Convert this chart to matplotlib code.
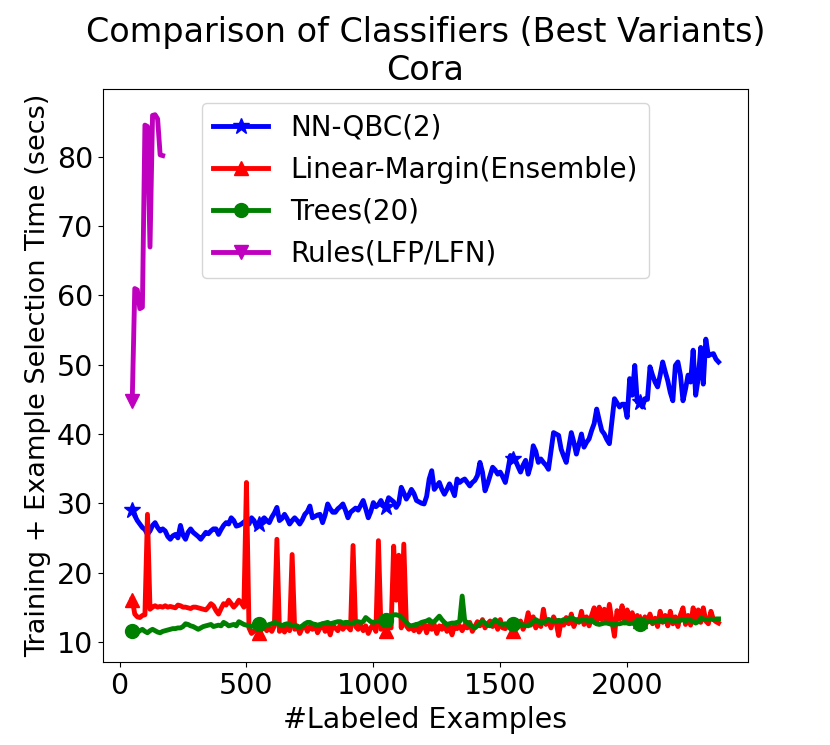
import numpy as np
import matplotlib
matplotlib.use('Agg')
import matplotlib.pyplot as plt

# number of labeled examples (same grid for the three long runs)
labeled = np.arange(50, 2370, 10)

nn_qbc = [
    29.0, 28.2, 27.5, 27.0, 26.5, 26.2, 25.5, 26.0, 26.8, 27.2,
    26.5, 26.0, 26.3, 26.0, 25.2, 24.8, 25.3, 25.5, 25.0, 26.8,
    25.4, 24.8, 25.8, 26.3, 25.8, 25.5, 25.2, 24.8, 25.3, 25.8,
    25.6, 26.0, 26.3, 26.3, 25.5, 26.2, 26.8, 27.2, 27.0, 27.9,
    27.5, 26.7, 26.8, 27.0, 27.3, 27.5, 27.0, 27.9, 27.5, 26.5,
    27.0, 27.5, 27.9, 27.5, 27.2, 28.0, 28.6, 29.4, 27.5, 27.8,
    28.4, 27.8, 27.0, 27.5, 27.9, 27.5, 27.0, 27.6, 28.4, 28.8,
    29.6, 27.9, 28.1, 28.3, 28.4, 27.2, 28.3, 29.9, 29.2, 28.7,
    28.7, 29.2, 29.5, 29.9, 29.0, 27.9, 28.7, 29.0, 29.3, 29.0,
    29.7, 30.4, 29.2, 27.9, 28.8, 30.1, 29.5, 29.8, 30.4, 29.6,
    29.5, 30.8, 30.5, 30.2, 29.4, 30.0, 32.3, 31.5, 30.6, 31.2,
    32.0, 31.4, 30.4, 30.2, 30.0, 29.9, 31.0, 33.5, 34.7, 32.0,
    32.5, 33.0, 32.0, 31.3, 32.0, 32.8, 32.0, 31.1, 33.5, 33.0,
    33.3, 33.5, 33.0, 32.5, 33.0, 33.3, 34.0, 35.9, 34.5, 31.8,
    32.8, 34.0, 35.2, 34.8, 34.2, 34.5, 33.8, 33.0, 34.8, 36.9,
    36.4, 36.2, 35.3, 34.5, 35.5, 36.2, 34.2, 35.5, 38.3, 37.5,
    35.9, 36.4, 35.9, 35.5, 34.9, 37.5, 40.2, 40.0, 39.8, 37.8,
    36.8, 35.9, 38.0, 40.2, 38.8, 37.1, 38.5, 40.0, 38.1, 38.8,
    39.3, 40.5, 41.5, 43.6, 42.0, 40.5, 40.0, 39.2, 38.6, 41.9,
    45.1, 44.5, 43.9, 44.3, 44.3, 42.4, 48.0, 45.6, 49.9, 44.6,
    44.6, 43.9, 45.1, 45.0, 49.7, 48.5, 47.5, 46.8, 48.5, 50.4,
    49.0, 47.7, 46.0, 44.8, 49.9, 50.4, 48.5, 44.8, 46.5, 48.5,
    47.5, 52.1, 45.6, 48.0, 52.5, 47.2, 53.7, 51.3, 51.5, 51.6,
    50.8, 50.4,
]

linear_margin = [
    16.1, 14.0, 13.6, 13.5, 13.8, 13.9, 28.4, 14.7, 15.0, 15.2,
    15.0, 15.1, 15.0, 15.2, 15.0, 15.1, 15.0, 14.9, 15.3, 15.2,
    15.0, 15.0, 14.9, 14.8, 15.0, 15.0, 14.9, 14.8, 14.7, 14.6,
    15.0, 15.5, 15.2, 14.5, 14.0, 14.8, 15.5, 15.3, 16.0, 15.5,
    15.0, 15.4, 16.0, 15.6, 15.0, 33.0, 12.0, 11.2, 11.5, 12.0,
    11.2, 11.8, 12.2, 11.6, 12.0, 11.5, 12.3, 24.8, 11.5, 12.0,
    11.4, 12.2, 11.6, 22.6, 11.8, 12.3, 11.2, 12.0, 12.4, 11.5,
    12.2, 11.8, 12.5, 11.3, 12.0, 12.6, 11.5, 12.2, 11.0, 12.4,
    12.0, 11.6, 12.5, 11.8, 12.3, 12.1, 11.7, 23.9, 12.2, 11.8,
    12.5, 11.6, 12.3, 11.2, 12.0, 12.6, 11.5, 24.6, 11.8, 12.4,
    11.5, 12.2, 12.0, 23.8, 16.0, 22.5, 12.0, 24.1, 12.3, 11.8,
    12.2, 11.6, 12.5, 11.4, 12.0, 12.6, 11.3, 12.4, 11.8, 12.5,
    11.2, 12.3, 11.8, 12.6, 11.5, 12.2, 11.0, 12.4, 11.9, 12.3,
    11.6, 12.4, 12.0, 12.8, 11.5, 12.2, 12.9, 12.3, 13.2, 12.0,
    12.6, 13.0, 12.2, 12.8, 11.8, 13.2, 12.0, 11.9, 12.5, 13.0,
    11.5, 12.8, 12.2, 13.0, 11.8, 12.5, 14.2, 12.4, 13.6, 12.0,
    13.0, 12.2, 14.7, 12.5, 13.2, 12.0, 13.6, 12.8, 10.9, 13.0,
    12.4, 13.5, 12.6, 14.0, 12.2, 13.2, 12.8, 14.4, 12.5, 13.6,
    12.3, 13.8, 14.9, 12.6, 15.0, 13.2, 14.7, 12.8, 15.4, 13.0,
    10.8, 14.5, 13.3, 15.2, 12.7, 14.6, 13.0, 14.2, 12.5, 13.8,
    13.0, 12.4, 13.6, 12.8, 14.0, 12.6, 13.4, 12.2, 14.4, 12.8,
    13.8, 12.3, 14.4, 12.6, 13.6, 12.2, 13.9, 14.9, 12.5, 13.8,
    12.4, 14.9, 13.2, 14.6, 12.8, 14.9, 13.0, 12.6, 14.4, 13.2,
    12.9, 12.7,
]

trees = [
    11.5, 11.4, 11.3, 11.6, 11.8, 11.5, 11.3, 11.6, 11.8, 11.6,
    11.4, 11.3, 11.5, 11.6, 11.7, 11.8, 11.9, 11.9, 12.0, 12.0,
    12.2, 12.6, 12.5, 12.3, 12.2, 12.0, 11.8, 12.0, 12.2, 12.3,
    12.4, 12.5, 12.2, 12.3, 12.4, 12.3, 12.8, 12.6, 12.3, 12.4,
    12.5, 12.3, 12.9, 12.7, 12.5, 12.4, 12.3, 12.2, 12.4, 12.5,
    12.5, 12.4, 12.3, 12.3, 12.5, 12.6, 12.8, 12.7, 12.5, 12.3,
    12.5, 12.6, 12.5, 12.3, 12.4, 12.2, 12.1, 12.3, 12.6, 12.8,
    12.8, 12.6, 12.5, 12.4, 12.5, 12.6, 12.7, 12.8, 12.6, 12.7,
    12.8, 12.9, 12.9, 12.7, 12.8, 12.8, 12.6, 12.7, 12.9, 12.9,
    12.8, 12.9, 13.5, 13.2, 12.9, 12.8, 12.9, 13.0, 13.0, 13.0,
    13.1, 13.3, 13.6, 13.9, 13.9, 13.8, 13.6, 13.2, 12.8, 12.4,
    12.3, 12.4, 12.5, 12.6, 12.8, 12.9, 13.0, 13.2, 12.8, 12.9,
    13.3, 13.7, 13.2, 12.8, 12.5, 12.6, 12.7, 12.7, 12.8, 12.9,
    16.6, 13.0, 12.8, 12.5, 12.2, 12.0, 12.3, 12.7, 13.0, 12.7,
    12.4, 12.3, 12.8, 13.2, 12.9, 12.6, 12.5, 12.6, 12.5, 12.5,
    12.5, 12.6, 12.5, 12.5, 12.4, 12.4, 12.3, 12.6, 12.9, 13.2,
    12.9, 12.7, 12.8, 13.0, 13.2, 13.1, 12.9, 13.0, 13.1, 13.0,
    13.2, 13.1, 13.3, 13.5, 13.3, 13.0, 13.0, 13.1, 13.2, 13.1,
    13.0, 13.1, 12.8, 12.6, 12.5, 12.6, 12.7, 12.7, 12.6, 12.5,
    12.5, 12.6, 12.6, 12.7, 12.8, 12.7, 12.6, 12.7, 12.6, 12.5,
    12.5, 12.6, 12.8, 13.0, 12.9, 12.8, 12.9, 13.0, 13.1, 13.0,
    13.1, 13.2, 13.1, 13.0, 13.0, 13.0, 13.1, 13.2, 13.0, 13.2,
    13.1, 12.9, 12.7, 12.9, 13.4, 13.3, 13.2, 13.2, 13.3, 13.2,
    13.3, 13.3,
]

# rules learner only finished a few rounds
rules_labeled = [50, 60, 70, 80, 90, 100, 110, 120, 130, 140, 150, 160, 170]
rules = [44.8, 61.0, 60.8, 58.1, 58.3, 84.6, 84.4, 67.0, 86.0, 86.1, 85.5, 80.3, 80.2]

fig = plt.figure(figsize=(8.3, 7.45), dpi=100)
ax = fig.add_axes([0.124, 0.111, 0.777, 0.770])

lw = 3.5
ms = 10
ax.plot(labeled, nn_qbc, 'b-', marker='*', markevery=50, lw=lw, ms=ms + 2, label='NN-QBC(2)')
ax.plot(labeled, linear_margin, 'r-', marker='^', markevery=50, lw=lw, ms=ms, label='Linear-Margin(Ensemble)')
ax.plot(labeled, trees, 'g-', marker='o', markevery=50, lw=lw, ms=ms, label='Trees(20)')
ax.plot(rules_labeled, rules, 'm-', marker='v', markevery=50, lw=lw, ms=ms, label='Rules(LFP/LFN)')

ax.set_title('Comparison of Classifiers (Best Variants)\nCora', fontsize=24)
ax.set_xlabel('#Labeled Examples', fontsize=20.5)
ax.set_ylabel('Training + Example Selection Time (secs)', fontsize=19.5)
ax.tick_params(labelsize=20.5)
ax.set_xticks([0, 500, 1000, 1500, 2000])
ax.legend(loc='upper center', fontsize=20)

plt.savefig('out.png', dpi=100)
plt.close()
